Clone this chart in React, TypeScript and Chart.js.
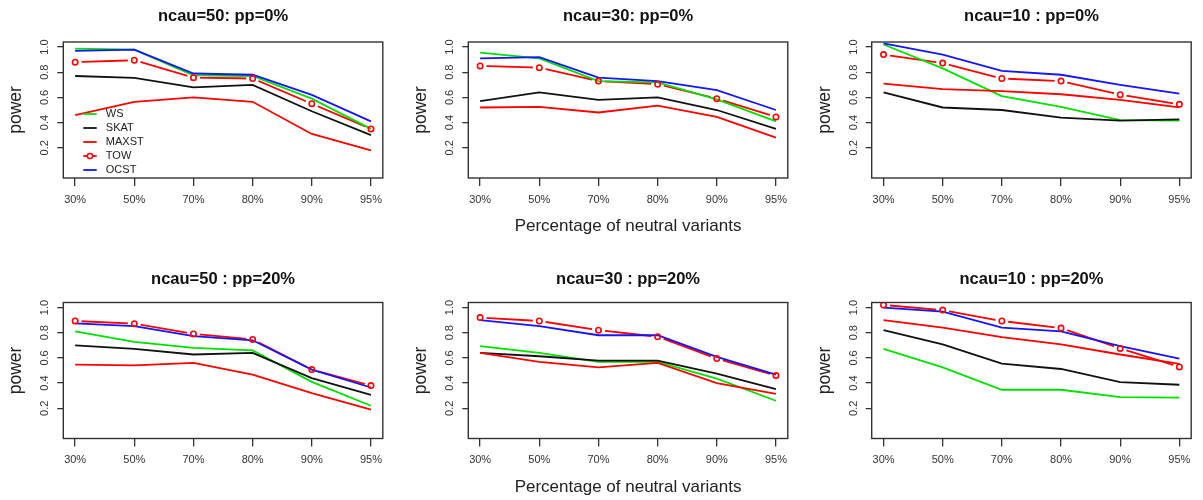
import React, { useEffect, useRef } from "react";
import { Chart, registerables } from "chart.js";

Chart.register(...registerables);

// ---------- data ----------
const xLabels = ["30%", "50%", "70%", "80%", "90%", "95%"];
const yTickValues = [0.2, 0.4, 0.6, 0.8, 1.0];
const seriesNames = ["WS", "SKAT", "MAXST", "TOW", "OCST"];
const panelTitles = [
  "ncau=50: pp=0%",
  "ncau=30: pp=0%",
  "ncau=10 : pp=0%",
  "ncau=50 : pp=20%",
  "ncau=30 : pp=20%",
  "ncau=10 : pp=20%",
];
const xAxisTitle = "Percentage of neutral variants";
const yAxisTitle = "power";

// ncau=50, pp=0%
const ws_n50_pp0 = [0.987, 0.98, 0.775, 0.77, 0.59, 0.35];
const skat_n50_pp0 = [0.77, 0.755, 0.68, 0.7, 0.49, 0.3];
const maxst_n50_pp0 = [0.46, 0.565, 0.6, 0.565, 0.31, 0.18];
const tow_n50_pp0 = [0.88, 0.895, 0.757, 0.75, 0.55, 0.35];
const ocst_n50_pp0 = [0.97, 0.98, 0.79, 0.78, 0.62, 0.41];

// ncau=30, pp=0%
const ws_n30_pp0 = [0.955, 0.91, 0.73, 0.72, 0.585, 0.41];
const skat_n30_pp0 = [0.57, 0.64, 0.58, 0.6, 0.5, 0.35];
const maxst_n30_pp0 = [0.52, 0.525, 0.48, 0.535, 0.445, 0.28];
const tow_n30_pp0 = [0.85, 0.836, 0.73, 0.705, 0.59, 0.445];
const ocst_n30_pp0 = [0.91, 0.92, 0.757, 0.73, 0.657, 0.5];

// ncau=10, pp=0%
const ws_n10_pp0 = [1.02, 0.83, 0.61, 0.525, 0.42, 0.415];
const skat_n10_pp0 = [0.64, 0.52, 0.5, 0.44, 0.415, 0.425];
const maxst_n10_pp0 = [0.71, 0.665, 0.65, 0.625, 0.58, 0.52];
const tow_n10_pp0 = [0.94, 0.873, 0.75, 0.73, 0.622, 0.545];
const ocst_n10_pp0 = [1.03, 0.94, 0.81, 0.78, 0.7, 0.63];

// ncau=50, pp=20%
const ws_n50_pp20 = [0.81, 0.728, 0.68, 0.66, 0.41, 0.22];
const skat_n50_pp20 = [0.7, 0.672, 0.627, 0.64, 0.44, 0.307];
const maxst_n50_pp20 = [0.547, 0.54, 0.56, 0.467, 0.32, 0.19];
const tow_n50_pp20 = [0.893, 0.872, 0.79, 0.747, 0.507, 0.38];
const ocst_n50_pp20 = [0.875, 0.853, 0.773, 0.74, 0.507, 0.365];

// ncau=30, pp=20%
const ws_n30_pp20 = [0.693, 0.64, 0.568, 0.568, 0.435, 0.26];
const skat_n30_pp20 = [0.64, 0.613, 0.578, 0.578, 0.475, 0.352];
const maxst_n30_pp20 = [0.64, 0.568, 0.525, 0.56, 0.4, 0.315];
const tow_n30_pp20 = [0.92, 0.893, 0.82, 0.768, 0.595, 0.46];
const ocst_n30_pp20 = [0.9, 0.853, 0.78, 0.78, 0.608, 0.467];

// ncau=10, pp=20%
const ws_n10_pp20 = [0.672, 0.525, 0.347, 0.347, 0.288, 0.285];
const skat_n10_pp20 = [0.82, 0.707, 0.555, 0.512, 0.408, 0.387];
const maxst_n10_pp20 = [0.9, 0.84, 0.765, 0.707, 0.627, 0.552];
const tow_n10_pp20 = [1.02, 0.98, 0.893, 0.837, 0.675, 0.528];
const ocst_n10_pp20 = [1.0, 0.968, 0.84, 0.81, 0.693, 0.595];

const panelSeries = [
  [ws_n50_pp0, skat_n50_pp0, maxst_n50_pp0, tow_n50_pp0, ocst_n50_pp0],
  [ws_n30_pp0, skat_n30_pp0, maxst_n30_pp0, tow_n30_pp0, ocst_n30_pp0],
  [ws_n10_pp0, skat_n10_pp0, maxst_n10_pp0, tow_n10_pp0, ocst_n10_pp0],
  [ws_n50_pp20, skat_n50_pp20, maxst_n50_pp20, tow_n50_pp20, ocst_n50_pp20],
  [ws_n30_pp20, skat_n30_pp20, maxst_n30_pp20, tow_n30_pp20, ocst_n30_pp20],
  [ws_n10_pp20, skat_n10_pp20, maxst_n10_pp20, tow_n10_pp20, ocst_n10_pp20],
];

// ---------- styles / layout ----------
const FONT = '"Liberation Sans", Arial, Helvetica, sans-serif';
const AXIS = "#333333";
const seriesColors = ["#00e000", "#111111", "#ff0000", "#ff0000", "#1414ff"];
const seriesOrder = [4, 3, 2, 9, 1];
const LINE_W = 1.8;

const CANVAS_W = 401;
const CANVAS_H = 250;
const boxLefts = [63.3, 468.3, 871.7];
const BOX_W = 319.5;
const boxTops = [42, 302.5];
const BOX_H = 136;
const titleGaps = [25.3, 23.2];

const decorPlugin = {
  id: "decor",
  afterDraw(chart: any, _args: any, opts: any) {
    const { ctx, chartArea: a } = chart;
    const y = chart.scales.y;
    ctx.save();
    // full box
    ctx.strokeStyle = AXIS;
    ctx.lineWidth = 1.4;
    ctx.strokeRect(a.left, a.top, a.right - a.left, a.bottom - a.top);

    // rotated y tick labels
    ctx.fillStyle = AXIS;
    ctx.font = `11px ${FONT}`;
    ctx.textAlign = "center";
    ctx.textBaseline = "middle";
    for (const v of yTickValues) {
      const py = y.getPixelForValue(v);
      ctx.save();
      ctx.translate(a.left - 18, py);
      ctx.rotate(-Math.PI / 2);
      ctx.fillText(v.toFixed(1), 0, 0);
      ctx.restore();
    }

    // title
    ctx.fillStyle = "#111";
    ctx.font = `bold 16.5px ${FONT}`;
    ctx.textAlign = "center";
    ctx.textBaseline = "middle";
    ctx.fillText(opts.title, (a.left + a.right) / 2, a.top - opts.titleGap);

    // y axis title
    ctx.font = `17.5px ${FONT}`;
    ctx.fillStyle = "#222";
    ctx.save();
    ctx.translate(a.left - 47, (a.top + a.bottom) / 2);
    ctx.rotate(-Math.PI / 2);
    ctx.fillText(yAxisTitle, 0, 0);
    ctx.restore();

    // x axis title
    if (opts.showXTitle) {
      ctx.font = `17px ${FONT}`;
      ctx.fillText(xAxisTitle, (a.left + a.right) / 2, a.bottom + 48.5);
    }

    // legend
    if (opts.showLegend) {
      ctx.font = `11px ${FONT}`;
      ctx.textAlign = "left";
      seriesNames.forEach((name, i) => {
        const yy = a.top + 72 + i * 14;
        const x0 = a.left + 20;
        const x1 = a.left + 33.4;
        ctx.strokeStyle = seriesColors[i];
        ctx.lineWidth = LINE_W;
        ctx.beginPath();
        ctx.moveTo(x0, yy);
        ctx.lineTo(x1, yy);
        ctx.stroke();
        if (name === "TOW") {
          ctx.beginPath();
          ctx.fillStyle = "#fff";
          ctx.arc((x0 + x1) / 2, yy, 2.6, 0, Math.PI * 2);
          ctx.fill();
          ctx.lineWidth = 1.5;
          ctx.stroke();
        }
        ctx.fillStyle = "#222";
        ctx.fillText(name, a.left + 42.5, yy);
      });
    }
    ctx.restore();
  },
};

type PanelProps = { index: number };

function Panel({ index }: PanelProps) {
  const ref = useRef<HTMLCanvasElement | null>(null);
  const row = Math.floor(index / 3);
  const col = index % 3;
  const canvasLeft = col * CANVAS_W;
  const canvasTop = row * CANVAS_H;

  useEffect(() => {
    if (!ref.current) return;
    const series = panelSeries[index];
    const relLeft = boxLefts[col] - canvasLeft;
    const relTop = boxTops[row] - canvasTop;
    const padRight = CANVAS_W - (relLeft + BOX_W);
    const xAxisH = CANVAS_H - relTop - BOX_H;

    const toPts = (arr: number[]) => arr.map((v, i) => ({ x: i, y: v }));

    const datasets: any[] = [];
    series.forEach((arr, i) => {
      const name = seriesNames[i];
      datasets.push({
        label: name,
        data: toPts(arr),
        borderColor: seriesColors[i],
        backgroundColor: seriesColors[i],
        borderWidth: LINE_W,
        pointRadius: 0,
        pointHoverRadius: 0,
        tension: 0,
        fill: false,
        order: seriesOrder[i],
      });
      if (name === "TOW") {
        // white gaps around the points (R type = "b")
        datasets.push({
          label: "TOW-gap",
          data: toPts(arr),
          showLine: false,
          pointRadius: 6.5,
          pointHoverRadius: 6.5,
          pointBackgroundColor: "#ffffff",
          pointBorderWidth: 0,
          pointBorderColor: "rgba(0,0,0,0)",
          order: 8,
        });
        datasets.push({
          label: "TOW-pts",
          data: toPts(arr),
          showLine: false,
          pointRadius: 2.7,
          pointHoverRadius: 2.7,
          pointStyle: "circle",
          pointBackgroundColor: "rgba(255,255,255,0)",
          pointBorderColor: seriesColors[i],
          pointBorderWidth: 1.6,
          order: 0,
        });
      }
    });

    const chart = new Chart(ref.current, {
      type: "line",
      data: { datasets },
      options: {
        animation: false,
        responsive: false,
        devicePixelRatio: 1,
        events: [],
        layout: { padding: { left: 0, right: padRight, top: relTop, bottom: 0 } },
        plugins: {
          legend: { display: false },
          title: { display: false },
          tooltip: { enabled: false },
          decor: {
            title: panelTitles[index],
            titleGap: titleGaps[row],
            showXTitle: col === 1,
            showLegend: index === 0,
          },
        } as any,
        scales: {
          x: {
            type: "linear",
            min: -0.2,
            max: 5.2,
            afterBuildTicks: (s: any) => {
              s.ticks = xLabels.map((_, i) => ({ value: i }));
            },
            afterFit: (s: any) => {
              s.height = xAxisH;
            },
            ticks: {
              callback: (v: any) => xLabels[Math.round(Number(v))] ?? "",
              font: { size: 11, family: FONT },
              color: AXIS,
              padding: 7,
              maxRotation: 0,
              minRotation: 0,
              autoSkip: false,
            },
            grid: {
              drawOnChartArea: false,
              drawTicks: true,
              tickLength: 8,
              color: AXIS,
              lineWidth: 1.3,
            },
            border: { display: false },
          },
          y: {
            type: "linear",
            min: -0.04,
            max: 1.04,
            afterBuildTicks: (s: any) => {
              s.ticks = yTickValues.map((v) => ({ value: v }));
            },
            afterFit: (s: any) => {
              s.width = relLeft;
            },
            ticks: { display: false },
            grid: {
              drawOnChartArea: false,
              drawTicks: true,
              tickLength: 6,
              color: AXIS,
              lineWidth: 1.3,
            },
            border: { display: false },
          },
        },
      } as any,
      plugins: [decorPlugin as any],
    });
    return () => chart.destroy();
  }, [index]);

  return (
    <canvas
      ref={ref}
      width={CANVAS_W}
      height={CANVAS_H}
      style={{
        position: "absolute",
        left: canvasLeft,
        top: canvasTop,
        width: CANVAS_W,
        height: CANVAS_H,
      }}
    />
  );
}

export default function App() {
  return (
    <div
      style={{
        position: "absolute",
        left: 0,
        top: 0,
        width: 1203,
        height: 500,
        background: "#ffffff",
        overflow: "hidden",
      }}
    >
      {panelTitles.map((_, i) => (
        <Panel key={i} index={i} />
      ))}
    </div>
  );
}
